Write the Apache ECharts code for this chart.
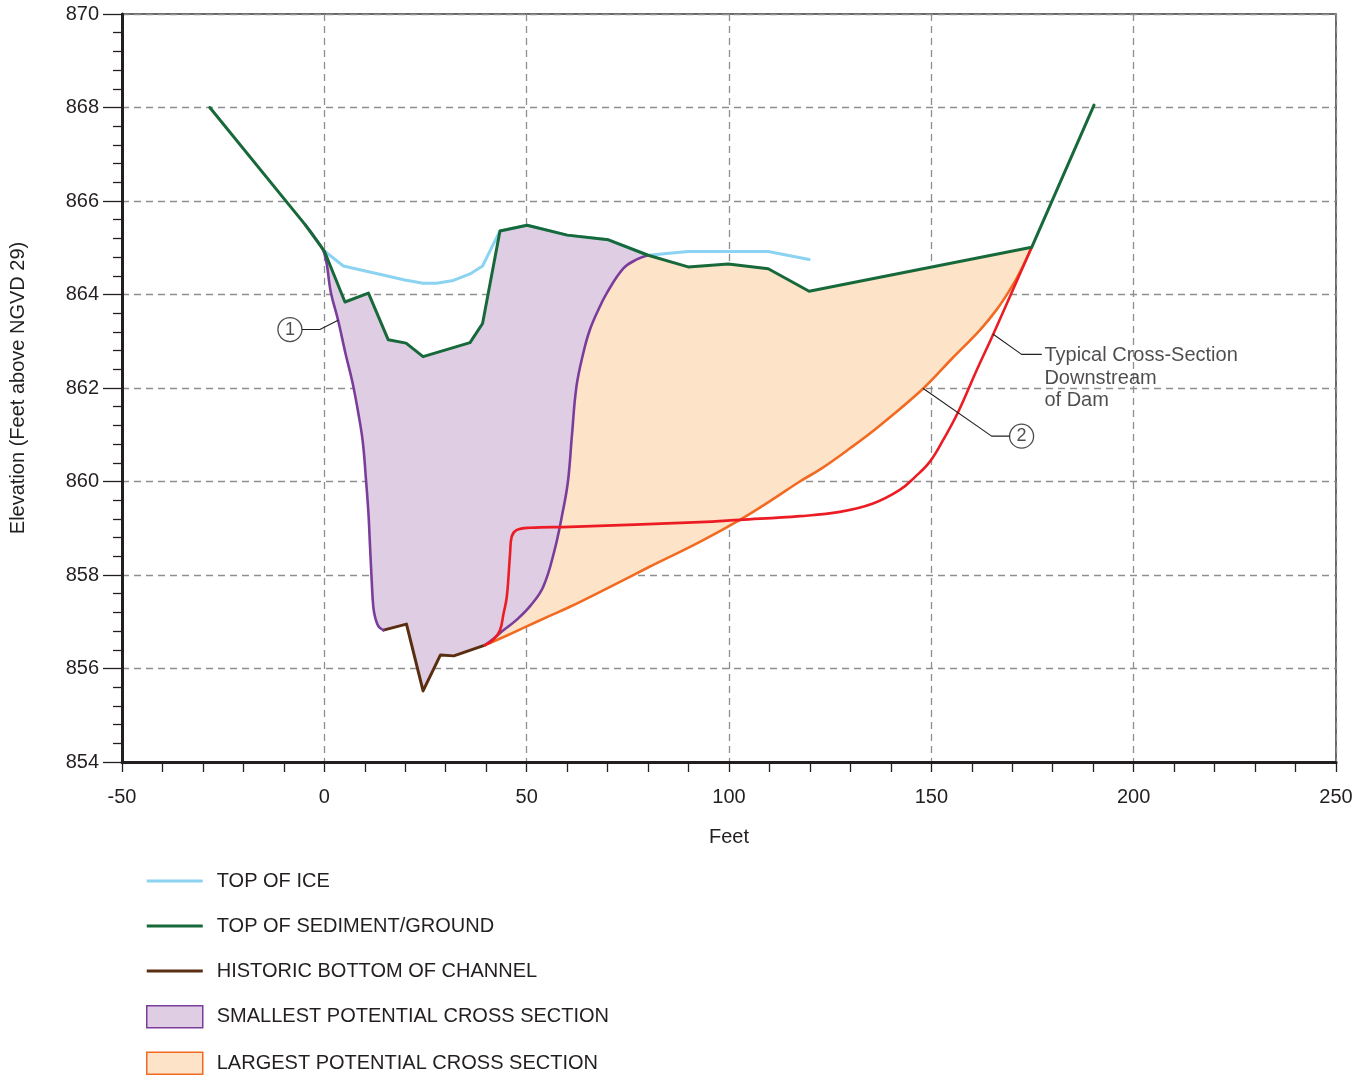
<!DOCTYPE html>
<html>
<head>
<meta charset="utf-8">
<title>Cross-section elevation profile</title>
<script src="https://cdn.jsdelivr.net/npm/echarts@6/dist/echarts.min.js"></script>
<style>
  html, body { margin: 0; padding: 0; background: #ffffff; }
  #chart { width: 1369px; height: 1076px; }
</style>
</head>
<body>
<div id="chart"></div>
<script>
// Station (feet) / elevation (feet above NGVD 29) pairs for each profile
const topOfIce = [
  [0, 864.93], [4.7, 864.61], [19.9, 864.31], [24.4, 864.24], [27.7, 864.24],
  [31.9, 864.30], [36.0, 864.44], [39.1, 864.61], [43.4, 865.36], [50.1, 865.48],
  [60, 865.27], [70.2, 865.17], [80, 864.84], [89.9, 864.92], [109.7, 864.92],
  [119.8, 864.75]
];
const topOfGround = [
  [-28.3, 868.0], [-4.8, 865.5], [0, 864.93], [5.1, 863.84], [10.9, 864.03],
  [15.8, 863.03], [20.2, 862.96], [24.4, 862.67], [36.0, 862.97], [39.1, 863.38],
  [43.4, 865.36], [50.1, 865.48], [60, 865.27], [70.2, 865.17], [80, 864.84],
  [89.9, 864.59], [99.8, 864.65], [109.7, 864.55], [119.8, 864.07], [174.8, 865.01],
  [190.2, 868.05]
];
const historicBottom = [
  [14.6, 856.82], [20.3, 856.95], [24.4, 855.52], [28.7, 856.29], [32.0, 856.27],
  [39.7, 856.5]
];
// Smallest potential section: left bank (top to bottom) and right bank (bottom to top)
const smallestLeft = [
  [-4.8, 865.5], [-2.5, 865.24], [0, 864.88], [1.6, 864.05], [3.4, 863.45],
  [5.2, 862.75], [7.0, 862.1], [8.4, 861.46], [9.5, 860.85], [10.3, 860.03],
  [10.9, 859.32], [11.3, 858.6], [11.7, 857.89], [12.1, 857.32], [12.6, 857.08],
  [13.4, 856.9], [14.6, 856.82]
];
const smallestRight = [
  [39.7, 856.5], [41.7, 856.63], [44, 856.8], [47.5, 857.04], [51, 857.35],
  [54.1, 857.75], [56.8, 858.5], [58.8, 859.3], [60.2, 860.0], [61.2, 861.0],
  [62.3, 862.03], [64.0, 862.75], [65.6, 863.24], [67.7, 863.67], [69.8, 864.03],
  [73.9, 864.56], [77.2, 864.75], [80, 864.84]
];
// Largest potential section: bottom limit
const largestBottom = [
  [39.7, 856.5], [45, 856.7], [50, 856.9], [55, 857.1], [60.7, 857.32],
  [70, 857.72], [80, 858.16], [92.8, 858.71], [102.7, 859.18], [110.5, 859.6],
  [117.5, 860.0], [122.9, 860.28], [129.9, 860.71], [137.3, 861.2], [148, 861.99],
  [155, 862.62], [162, 863.24], [166, 863.66], [169.4, 864.1], [171.9, 864.48],
  [174.8, 865.01]
];
// Typical cross-section downstream of the dam
const downstreamSection = [
  [39.7, 856.5], [41.7, 856.61], [43.4, 856.82], [44.3, 857.18], [45.1, 857.54],
  [45.9, 858.46], [46.3, 858.82], [47.5, 858.96], [50.8, 859.01], [60.7, 859.03],
  [92.8, 859.13], [102.7, 859.18], [117.5, 859.26], [127.4, 859.35], [135.6, 859.53],
  [142.2, 859.82], [146, 860.1], [149.6, 860.42], [153, 860.9], [156.6, 861.48],
  [161.2, 862.38], [165.3, 863.15], [170, 864.07], [174.8, 865.01]
];

// Callouts
const callout1Leader = [[-5.5, 863.25], [-1.1, 863.25], [3.4, 863.45]];
const callout1Circle = [-8.5, 863.25];
const callout2Leader = [[148.0, 861.99], [164.9, 860.97], [169.4, 860.97]];
const callout2Circle = [172.3, 860.97];
const noteLeader = [[165.3, 863.15], [172.3, 862.72], [177.2, 862.72]];
const noteAnchorY = 862.21;
const noteText = 'Typical Cross-Section\nDownstream\nof Dam';

const C = {
  ice: '#8bd3f1',
  ground: '#17693a',
  brown: '#5a2e10',
  purple: '#7b3d9b',
  purpleFill: '#dfcde3',
  orange: '#f26a22',
  orangeFill: '#fde4c9',
  red: '#ec1c24',
  ink: '#231f20',
  grid: '#8e8e8e'
};
const FONT = '"Liberation Sans", Arial, Helvetica, sans-serif';
const LINE_ICON = 'path://M0,0 H56 V3 H0 Z';

// Polygon outlines of the two shaded areas
const groundBetween = (a, b) => topOfGround.filter(p => p[0] >= a && p[0] <= b);
const rev = arr => arr.slice().reverse();
const smallestPolygon = [].concat(
  groundBetween(-4.8, 80),
  rev(smallestRight).slice(1),
  rev(historicBottom).slice(1),
  rev(smallestLeft).slice(1, -1)
);
const largestPolygon = [].concat(
  smallestRight,
  groundBetween(80, 174.8).slice(1),
  rev(largestBottom).slice(1, -1)
);

function polygonSeries(name, pts, fill) {
  return {
    name: name,
    type: 'custom',
    silent: true,
    clip: true,
    z: 1,
    data: [0],
    renderItem: function (params, api) {
      return {
        type: 'polygon',
        shape: { points: pts.map(p => api.coord(p)), smooth: 0 },
        style: { fill: fill, stroke: 'none' }
      };
    }
  };
}

function lineSeries(name, data, color, width, z, smooth) {
  return {
    name: name,
    type: 'line',
    data: data,
    symbol: 'none',
    showSymbol: false,
    smooth: smooth || false,
    silent: true,
    z: z,
    lineStyle: { color: color, width: width, join: 'round', cap: 'round' },
    itemStyle: { color: color }
  };
}

function circleCallout(pt, text) {
  return {
    type: 'scatter',
    data: [pt],
    symbol: 'circle',
    symbolSize: 24,
    silent: true,
    z: 10,
    itemStyle: { color: '#ffffff', borderColor: C.ink, borderWidth: 1.3 },
    label: {
      show: true, position: 'inside', formatter: text,
      fontFamily: FONT, fontSize: 18, color: C.ink
    }
  };
}

const chart = echarts.init(document.getElementById('chart'), null, { renderer: 'canvas' });

chart.setOption({
  animation: false,
  backgroundColor: '#ffffff',
  textStyle: { fontFamily: FONT },
  grid: {
    left: 122, right: 33, top: 14, bottom: 314,
    show: true, borderColor: '#3a3a3a', borderWidth: 1.5, backgroundColor: 'transparent'
  },
  xAxis: {
    type: 'value', min: -50, max: 250, interval: 50,
    name: 'Feet', nameLocation: 'middle', nameGap: 65,
    nameTextStyle: { fontFamily: FONT, fontSize: 20, color: C.ink },
    axisLine: { show: true, onZero: false, lineStyle: { color: C.ink, width: 3 } },
    axisTick: { show: true, length: 10, lineStyle: { color: C.ink, width: 1.3 } },
    minorTick: { show: true, splitNumber: 5, length: 10, lineStyle: { color: C.ink, width: 1.3 } },
    axisLabel: { fontFamily: FONT, fontSize: 20, color: C.ink, margin: 25 },
    splitLine: { show: true, lineStyle: { color: C.grid, width: 1.3, type: [7, 5] } }
  },
  yAxis: {
    type: 'value', min: 854, max: 870, interval: 2,
    name: 'Elevation (Feet above NGVD 29)', nameLocation: 'middle', nameGap: 94,
    nameTextStyle: { fontFamily: FONT, fontSize: 20, color: C.ink },
    axisLine: { show: true, onZero: false, lineStyle: { color: C.ink, width: 3 } },
    axisTick: { show: true, length: 19, lineStyle: { color: C.ink, width: 1.3 } },
    minorTick: { show: true, splitNumber: 5, length: 9, lineStyle: { color: C.ink, width: 1.3 } },
    axisLabel: { fontFamily: FONT, fontSize: 20, color: C.ink, margin: 23 },
    splitLine: { show: true, lineStyle: { color: C.grid, width: 1.3, type: [7, 5] } }
  },
  legend: {
    orient: 'vertical',
    left: 146, top: 870,
    padding: 0,
    itemWidth: 56, itemHeight: 22, itemGap: 23,
    selectedMode: false,
    symbolKeepAspect: true,
    textStyle: {
      fontFamily: FONT, fontSize: 20, color: C.ink,
      lineHeight: 22, height: 22, padding: [0, 0, 0, 9]
    },
    data: [
      { name: 'TOP OF ICE', icon: LINE_ICON, itemStyle: { color: C.ice } },
      { name: 'TOP OF SEDIMENT/GROUND', icon: LINE_ICON, itemStyle: { color: C.ground } },
      { name: 'HISTORIC BOTTOM OF CHANNEL', icon: LINE_ICON, itemStyle: { color: C.brown } },
      { name: 'SMALLEST POTENTIAL CROSS SECTION', icon: 'rect',
        itemStyle: { color: C.purpleFill, borderColor: C.purple, borderWidth: 1.5 } },
      { name: 'LARGEST POTENTIAL CROSS SECTION', icon: 'rect',
        itemStyle: { color: C.orangeFill, borderColor: C.orange, borderWidth: 1.5 } }
    ]
  },
  series: [
    polygonSeries('SMALLEST POTENTIAL CROSS SECTION', smallestPolygon, C.purpleFill),
    polygonSeries('LARGEST POTENTIAL CROSS SECTION', largestPolygon, C.orangeFill),
    lineSeries('TOP OF ICE', topOfIce, C.ice, 3, 3),
    lineSeries('HISTORIC BOTTOM OF CHANNEL', historicBottom, C.brown, 3, 4),
    lineSeries('smallest-left-bank', smallestLeft, C.purple, 2.6, 4, 0.4),
    lineSeries('smallest-right-bank', smallestRight, C.purple, 2.6, 4, 0.4),
    lineSeries('largest-bottom', largestBottom, C.orange, 2.6, 4, 0.4),
    lineSeries('downstream-section', downstreamSection, C.red, 2.6, 5, 0.4),
    lineSeries('TOP OF SEDIMENT/GROUND', topOfGround, C.ground, 3, 6),
    lineSeries('callout-1-leader', callout1Leader, C.ink, 1.1, 8),
    lineSeries('callout-2-leader', callout2Leader, C.ink, 1.1, 8),
    lineSeries('note-leader', noteLeader, C.ink, 1.1, 8),
    circleCallout(callout1Circle, '1'),
    circleCallout(callout2Circle, '2'),
    {
      type: 'scatter',
      data: [[noteLeader[2][0], noteAnchorY]],
      symbolSize: 0,
      silent: true,
      z: 10,
      label: {
        show: true, position: 'right', distance: 3,
        formatter: noteText, fontFamily: FONT, fontSize: 20, lineHeight: 22.5,
        color: C.ink, align: 'left'
      }
    }
  ]
});
</script>
</body>
</html>
